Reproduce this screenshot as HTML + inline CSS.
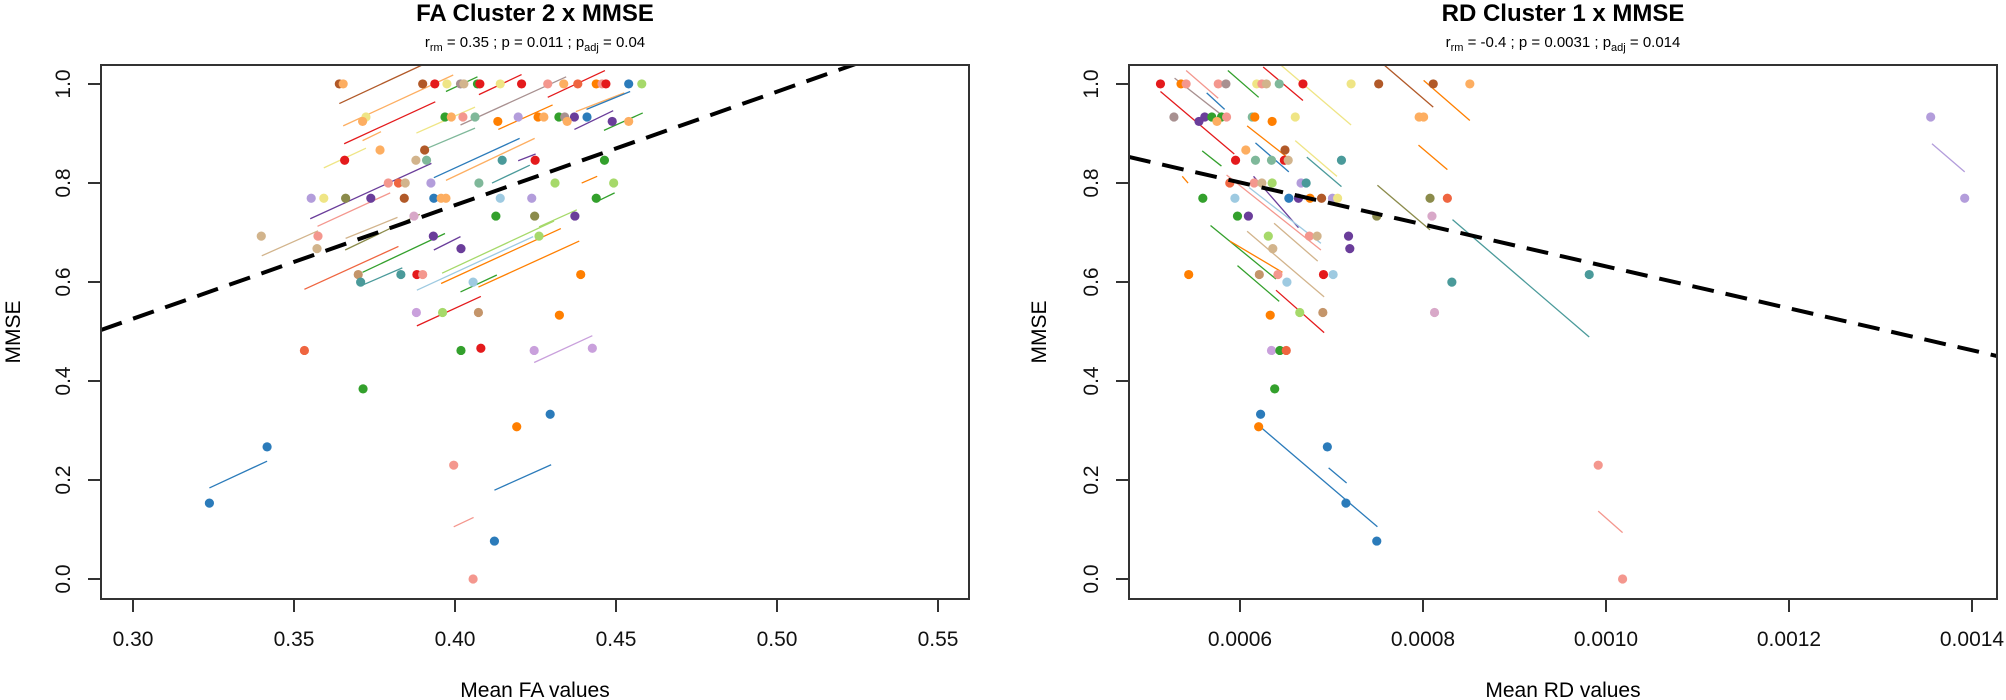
<!DOCTYPE html>
<html><head><meta charset="utf-8"><style>
html,body{margin:0;padding:0;background:#fff;}
svg{display:block;font-family:"Liberation Sans",Arial,sans-serif;}
</style></head><body>
<svg id="s" width="2006" height="700" viewBox="0 0 2006 700" xmlns="http://www.w3.org/2000/svg">
<rect width="2006" height="700" fill="#fff"/>
<defs>
<clipPath id="cl"><rect x="101" y="65" width="868" height="534"/></clipPath>
<clipPath id="cr"><rect x="1129" y="65" width="868" height="534"/></clipPath>
</defs>
<!-- Left titles -->
<text x="535" y="21" text-anchor="middle" font-size="24" font-weight="bold">FA Cluster 2 x MMSE</text>
<text x="535" y="47" text-anchor="middle" font-size="15">r<tspan font-size="11" dy="4">rm</tspan><tspan dy="-4"> = 0.35 ; p = 0.011 ; p</tspan><tspan font-size="11" dy="4">adj</tspan><tspan dy="-4"> = 0.04</tspan></text>
<text x="1563" y="21" text-anchor="middle" font-size="24" font-weight="bold">RD Cluster 1 x MMSE</text>
<text x="1563" y="47" text-anchor="middle" font-size="15">r<tspan font-size="11" dy="4">rm</tspan><tspan dy="-4"> = -0.4 ; p = 0.0031 ; p</tspan><tspan font-size="11" dy="4">adj</tspan><tspan dy="-4"> = 0.014</tspan></text>
<g id="gl" clip-path="url(#cl)"></g>
<g id="gr" clip-path="url(#cr)"></g>
<g fill="none" stroke="#333" stroke-width="2">
<rect x="101" y="65" width="868" height="534"/>
<rect x="1129" y="65" width="868" height="534"/>
</g>
<g id="ax" stroke="#333" stroke-width="2"></g>
<g id="tx" font-size="21" fill="#111"></g>
<text x="535" y="697" text-anchor="middle" font-size="21">Mean FA values</text>
<text x="1563" y="697" text-anchor="middle" font-size="21">Mean RD values</text>
<text transform="translate(20,332) rotate(-90)" text-anchor="middle" font-size="21">MMSE</text>
<text transform="translate(1046,332) rotate(-90)" text-anchor="middle" font-size="21">MMSE</text>
</svg>
<script>
var NS="http://www.w3.org/2000/svg";
function el(p,t,a){var e=document.createElementNS(NS,t);for(var k in a)e.setAttribute(k,a[k]);p.appendChild(e);return e;}
var ax=document.getElementById('ax'),tx=document.getElementById('tx');
// y ticks
[0,0.2,0.4,0.6,0.8,1.0].forEach(function(v){
  var y=579-v*495;
  [101,1129].forEach(function(bx){
    el(ax,'line',{x1:bx-13,x2:bx,y1:y,y2:y});
    var t=el(tx,'text',{transform:'translate('+(bx-31)+','+y+') rotate(-90)','text-anchor':'middle'});
    t.textContent=v.toFixed(1);
  });
});
// x ticks left
[0.30,0.35,0.40,0.45,0.50,0.55].forEach(function(v,i){
  var x=133+i*161;
  el(ax,'line',{x1:x,x2:x,y1:599,y2:612});
  var t=el(tx,'text',{x:x,y:646,'text-anchor':'middle'});t.textContent=v.toFixed(2);
});
['0.0006','0.0008','0.0010','0.0012','0.0014'].forEach(function(s,i){
  var x=1240+i*183;
  el(ax,'line',{x1:x,x2:x,y1:599,y2:612});
  var t=el(tx,'text',{x:x,y:646,'text-anchor':'middle'});t.textContent=s;
});
var C={r:'#e41a1c',o:'#ff7f00',lo:'#fdae61',y:'#efe585',b:'#b15928',bl:'#2b7bba',lb:'#9ecae1',g:'#33a02c',lg:'#a6d96a',p:'#6a3d9a',lp:'#b39ddb',pk:'#f4978e',t:'#4a9a9a',gr:'#a89090',tn:'#d2b48c',ol:'#8b8b4b',lv:'#c9a0dc',ro:'#ef6540',bt:'#c4956a',pl:'#d8a8c8',mg:'#7fb89a'};
var gl=document.getElementById('gl'),gr=document.getElementById('gr');
function L(x){return x/2.063;} function R(x){return 1000+x/1.558;} function Y(y){return y/2.24;}
var lp=[[188,[[700,'b'],[708,'lo'],[872,'b'],[897,'r'],[922,'y'],[950,'gr'],[957,'tn'],[985,'g'],[990,'r'],[1032,'y'],[1076,'r'],[1130,'pk'],[1163,'lo'],[1192,'ro'],[1230,'o'],[1242,'pk'],[1250,'r'],[1297,'bl'],[1324,'lg']]],
[262,[[755,'y'],[918,'g'],[931,'lo'],[955,'pk'],[980,'mg'],[1069,'lp'],[1110,'o'],[1122,'lo'],[1153,'g'],[1165,'gr'],[1185,'p'],[1211,'bl']]],
[272,[[748,'lo'],[1027,'o'],[1170,'lo'],[1263,'p'],[1297,'lo']]],
[336,[[784,'lo'],[876,'b']]],
[359,[[711,'r'],[858,'tn'],[880,'mg'],[1036,'t'],[1104,'r'],[1247,'g']]],
[410,[[801,'pk'],[822,'ro'],[836,'tn'],[889,'lp'],[988,'mg'],[1145,'lg'],[1266,'lg']]],
[444,[[642,'lp'],[668,'y'],[713,'ol'],[765,'p'],[834,'b'],[895,'bl'],[910,'lo'],[920,'lo'],[1032,'lb'],[1097,'lp'],[1230,'g']]],
[484,[[854,'pl'],[1023,'g'],[1103,'ol'],[1186,'p']]],
[529,[[539,'tn'],[656,'pk'],[894,'p'],[1112,'lg']]],
[557,[[654,'tn'],[951,'p']]],
[615,[[739,'bt'],[827,'t'],[860,'r'],[872,'pk'],[1198,'o']]],
[632,[[744,'t'],[976,'lb']]],
[700,[[859,'lv'],[913,'lg'],[987,'bt']]],
[706,[[1154,'o']]],
[785,[[628,'ro'],[951,'g'],[1102,'lv']]],
[780,[[992,'r'],[1222,'lv']]],
[871,[[749,'g']]],[928,[[1135,'bl']]],[956,[[1066,'o']]],[1001,[[551,'bl']]],[1042,[[936,'pk']]],[1127,[[432,'bl']]],[1212,[[1020,'bl']]],[1297,[[976,'pk']]]];
var ll=[[700,232,872,145,'b'],[708,282,935,168,'lo'],[710,322,898,228,'r'],[748,315,786,295,'lo'],[668,376,755,332,'y'],[859,298,980,240,'y'],[920,205,985,172,'g'],[950,280,1168,172,'gr'],[988,212,1076,167,'r'],[1130,218,1248,158,'r'],[1028,290,1140,235,'o'],[1188,250,1288,208,'lo'],[1185,290,1265,248,'p'],[1210,245,1300,205,'bl'],[1246,292,1326,253,'g'],[875,335,980,287,'mg'],[895,398,1072,310,'bl'],[920,404,1103,310,'lo'],[1015,410,1093,370,'t'],[1069,360,1105,345,'p'],[640,490,890,366,'p'],[655,507,805,432,'pk'],[712,560,866,480,'ol'],[713,534,820,487,'tn'],[540,573,656,517,'tn'],[628,648,822,552,'ro'],[748,610,918,523,'g'],[745,640,830,600,'t'],[860,650,1100,530,'lb'],[895,560,950,530,'p'],[860,730,992,664,'r'],[910,635,1157,512,'o'],[912,612,1143,495,'lg'],[987,643,1195,540,'o'],[950,654,1025,616,'g'],[1112,508,1190,470,'lg'],[1200,410,1232,395,'o'],[1230,452,1268,432,'g'],[1102,812,1222,752,'lv'],[432,1093,551,1033,'bl'],[1020,1098,1137,1041,'bl'],[936,1180,977,1159,'pk']];
var rp=[[188,[[250,'r'],[282,'o'],[290,'pk'],[340,'pk'],[352,'gr'],[400,'y'],[408,'pk'],[415,'tn'],[435,'mg'],[472,'r'],[547,'y'],[590,'b'],[675,'b'],[732,'lo']]],
[262,[[271,'gr'],[319,'p'],[330,'g'],[345,'g'],[353,'pk'],[393,'mg'],[397,'o'],[460,'y'],[653,'lo'],[660,'lo'],[1450,'lp']]],
[272,[[310,'p'],[338,'lo'],[424,'o']]],
[336,[[383,'lo'],[444,'b']]],
[359,[[367,'r'],[398,'mg'],[423,'mg'],[443,'r'],[449,'tn'],[532,'t']]],
[410,[[358,'ro'],[396,'pk'],[408,'tn'],[424,'lg'],[469,'lp'],[477,'t']]],
[444,[[316,'g'],[366,'lb'],[450,'bl'],[465,'p'],[483,'o'],[501,'b'],[518,'lp'],[526,'y'],[670,'ol'],[697,'ro'],[1503,'lp']]],
[484,[[370,'g'],[387,'p'],[587,'ol'],[673,'pl']]],
[529,[[418,'lg'],[482,'pk'],[494,'tn'],[543,'p']]],
[557,[[425,'tn'],[545,'p']]],
[615,[[294,'o'],[404,'bt'],[433,'pk'],[504,'r'],[519,'lb'],[918,'t']]],
[632,[[447,'lb'],[704,'t']]],
[700,[[467,'lg'],[503,'bt'],[677,'pl']]],
[706,[[421,'o']]],
[785,[[423,'lv'],[436,'g'],[446,'ro']]],
[871,[[428,'g']]],[928,[[406,'bl']]],[956,[[403,'o']]],[1001,[[510,'bl']]],[1042,[[932,'pk']]],[1127,[[539,'bl']]],[1212,[[587,'bl']]],[1297,[[970,'pk']]]];
var rl=[[250,205,365,345,'r'],[290,158,340,220,'pk'],[272,175,352,265,'gr'],[355,158,403,218,'g'],[410,150,472,225,'r'],[437,145,547,280,'y'],[598,145,675,240,'b'],[660,180,732,270,'o'],[322,208,350,245,'bl'],[385,282,450,355,'o'],[398,320,450,385,'bl'],[460,315,525,395,'y'],[478,352,532,418,'t'],[395,395,465,510,'p'],[353,392,500,560,'pk'],[388,420,500,545,'lb'],[315,338,345,372,'g'],[328,505,430,625,'g'],[358,540,440,610,'o'],[385,518,505,665,'tn'],[430,650,505,745,'r'],[370,595,435,675,'g'],[427,500,495,585,'tn'],[588,415,670,515,'ol'],[652,325,697,380,'o'],[705,492,918,755,'t'],[407,958,588,1180,'bl'],[512,1048,540,1082,'bl'],[932,1145,970,1193,'pk'],[1452,322,1503,385,'lp'],[284,395,293,410,'o']];
function draw(g,pts,lines,FX){
  lines.forEach(function(l){el(g,'line',{x1:FX(l[0]),y1:Y(l[1]),x2:FX(l[2]),y2:Y(l[3]),stroke:C[l[4]],'stroke-width':1.3});});
  pts.forEach(function(row){row[1].forEach(function(p){el(g,'circle',{cx:FX(p[0]),cy:Y(row[0]),r:4.6,fill:C[p[1]]});});});
}
draw(gl,lp,ll,L);draw(gr,rp,rl,R);
el(gl,'line',{x1:101,y1:330,x2:969,y2:24,stroke:'#000','stroke-width':4,'stroke-dasharray':'22 12'});
el(gr,'line',{x1:1129,y1:157,x2:1997,y2:356,stroke:'#000','stroke-width':4,'stroke-dasharray':'22 12'});
</script>
</body></html>
